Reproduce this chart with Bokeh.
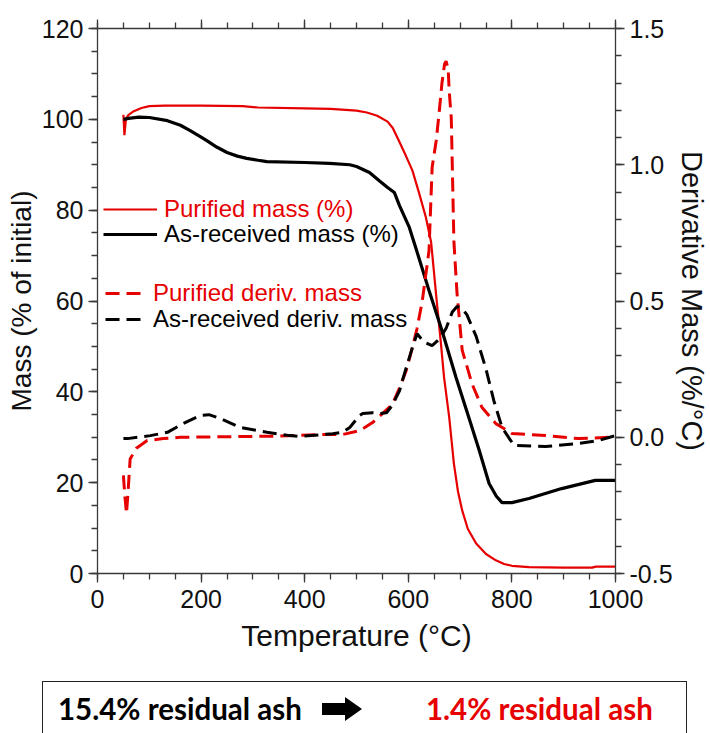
from bokeh.plotting import figure
from bokeh.models import (Range1d, LinearAxis, SingleIntervalTicker, NumeralTickFormatter,
                          CustomJSTickFormatter, Legend, LegendItem, Div)
from bokeh.layouts import column
from bokeh.embed import file_html
from bokeh.resources import INLINE

# ---------------- data ----------------
pur_mass_T = [50, 52, 55, 60, 70, 85, 100, 130, 200, 280, 310, 400, 450, 500, 520, 540, 560, 570, 583,
              596, 608, 621, 634, 644, 654, 663, 669, 679, 688, 696, 704, 715, 731, 750, 769, 785, 800,
              833, 900, 955, 962, 1000]
pur_mass = [101.0, 96.5, 100.2, 101.0, 101.8, 102.5, 102.9, 103.0, 103.0, 102.9, 102.6, 102.4, 102.3,
            101.9, 101.5, 100.8, 99.5, 98.1, 95.0, 91.8, 88.7, 83.7, 78.4, 73.0, 61.0, 50.6, 43.2,
            34.4, 24.2, 18.0, 13.9, 9.8, 6.6, 4.3, 2.9, 2.1, 1.7, 1.4, 1.3, 1.3, 1.5, 1.5]

rec_mass_T = [50, 60, 80, 100, 135, 160, 179, 200, 211, 230, 250, 270, 288, 310, 327, 400, 448, 487,
              500, 525, 544, 560, 573, 583, 602, 615, 640, 665, 692, 717, 737, 756, 770, 781, 800,
              833, 896, 961, 1000]
rec_mass = [100.0, 100.2, 100.5, 100.4, 99.7, 98.7, 97.5, 96.1, 95.3, 93.9, 92.7, 91.9, 91.4, 91.0,
            90.7, 90.5, 90.3, 90.0, 89.6, 88.3, 86.5, 85.0, 83.9, 81.0, 76.2, 71.5, 62.3, 53.5, 43.2,
            34.3, 27.1, 19.8, 17.0, 15.6, 15.6, 16.5, 18.7, 20.5, 20.5]

pur_deriv_T = [50, 53, 56, 59, 63, 75, 96, 127, 160, 250, 350, 429, 473, 506, 531, 550, 569, 583, 596,
               608, 617, 627, 640, 646, 654, 660, 665, 670, 673, 677, 679, 683, 685, 688, 694, 704,
               723, 742, 769, 800, 865, 929, 992, 1000]
pur_deriv = [-0.14, -0.22, -0.28, -0.20, -0.08, -0.04, -0.012, -0.005, 0.0, 0.002, 0.004, 0.01, 0.01,
             0.024, 0.054, 0.087, 0.12, 0.18, 0.245, 0.33, 0.40, 0.50, 0.685, 0.99, 1.09, 1.20, 1.30,
             1.37, 1.38, 1.35, 1.27, 1.17, 0.99, 0.72, 0.53, 0.32, 0.196, 0.11, 0.05, 0.014, 0.006,
             -0.005, 0.0, 0.0]

rec_deriv_T = [50, 58, 102, 135, 165, 198, 215, 237, 275, 327, 371, 390, 454, 473, 487, 506, 512, 531,
               544, 558, 569, 583, 592, 608, 617, 630, 646, 660, 673, 685, 694, 703, 713, 731, 750,
               765, 781, 804, 865, 929, 967, 1000]
rec_deriv = [-0.005, -0.005, 0.006, 0.018, 0.05, 0.08, 0.083, 0.069, 0.036, 0.018, 0.006, 0.003, 0.013,
             0.018, 0.036, 0.08, 0.087, 0.09, 0.087, 0.09, 0.117, 0.17, 0.23, 0.33, 0.38, 0.35, 0.336,
             0.36, 0.40, 0.46, 0.48, 0.475, 0.45, 0.37, 0.25, 0.135, 0.036, -0.03, -0.034, -0.023,
             -0.012, 0.006]

labels = ["Purified mass (%)", "As-received mass (%)", "Purified deriv. mass", "As-received deriv. mass"]
x_title = "Temperature (°C)"
y_title = "Mass (% of initial)"
y2_title = "Derivative Mass (%/°C)"
note_left = "15.4% residual ash"
note_right = "1.4% residual ash"

RED = "#e60000"
BLACK = "#000000"
FONT = "Liberation Sans"
AX = "#3a3a3a"

# ---------------- main figure ----------------
p = figure(width=710, height=670, x_range=Range1d(0, 1000), y_range=Range1d(0, 120),
           output_backend="svg", toolbar_location=None,
           min_border_left=97, min_border_right=93, min_border_top=28, min_border_bottom=97,
           x_axis_location=None, y_axis_location=None)
p.extra_y_ranges = {"d": Range1d(-0.5, 1.5)}
p.grid.visible = False
p.outline_line_color = None
p.background_fill_color = "white"
p.border_fill_color = "white"


def style_axis(ax, label_size):
    ax.axis_line_color = AX
    ax.axis_line_width = 1.3
    ax.major_tick_line_color = AX
    ax.minor_tick_line_color = AX
    ax.major_tick_line_width = 1.3
    ax.minor_tick_line_width = 1.3
    ax.major_tick_in = 0
    ax.major_tick_out = 9
    ax.minor_tick_in = 0
    ax.minor_tick_out = 6
    ax.major_label_text_font = FONT
    ax.major_label_text_font_size = "25px"
    ax.major_label_text_color = "#111111"
    ax.axis_label_text_font = FONT
    ax.axis_label_text_font_size = label_size
    ax.axis_label_text_font_style = "normal"
    ax.axis_label_text_color = "#111111"


xb = LinearAxis(ticker=SingleIntervalTicker(interval=200, num_minor_ticks=4), axis_label=x_title)
style_axis(xb, "30px")
xb.major_label_standoff = 7
xb.axis_label_standoff = 8
p.add_layout(xb, "below")

xt = LinearAxis(ticker=SingleIntervalTicker(interval=200, num_minor_ticks=4),
                formatter=CustomJSTickFormatter(code="return ''"))
style_axis(xt, "10px")
xt.major_label_standoff = 0
p.add_layout(xt, "above")

yl = LinearAxis(ticker=SingleIntervalTicker(interval=20, num_minor_ticks=4), axis_label=y_title)
style_axis(yl, "28px")
yl.major_label_standoff = 5
yl.axis_label_standoff = 2
p.add_layout(yl, "left")

yr = LinearAxis(y_range_name="d", ticker=SingleIntervalTicker(interval=0.5, num_minor_ticks=5),
                axis_label=y2_title, formatter=NumeralTickFormatter(format="0.0"))
style_axis(yr, "29px")
yr.major_label_standoff = 5
yr.axis_label_standoff = 0
p.add_layout(yr, "right")

r_pm = p.line(pur_mass_T, pur_mass, line_color=RED, line_width=2.2)
r_rm = p.line(rec_mass_T, rec_mass, line_color=BLACK, line_width=3.2)
r_pd = p.line(pur_deriv_T, pur_deriv, line_color=RED, line_width=3, line_dash="14 7",
              y_range_name="d")
r_rd = p.line(rec_deriv_T, rec_deriv, line_color=BLACK, line_width=3, line_dash="14 7",
              y_range_name="d")


def add_legend(label, rend, color, loc, gw, standoff):
    leg = Legend(items=[LegendItem(label=label, renderers=[rend])], location=loc,
                 glyph_width=gw, glyph_height=24, label_height=24, label_standoff=standoff,
                 padding=0, margin=0, spacing=0, border_line_alpha=0, background_fill_alpha=0,
                 label_text_font=FONT, label_text_font_size="24px", label_text_color=color)
    p.add_layout(leg)


add_legend(labels[0], r_pm, RED, (6, 350), 54, 7)
add_legend(labels[1], r_rm, BLACK, (6, 325), 54, 7)
add_legend(labels[2], r_pd, RED, (8, 266), 40, 8)
add_legend(labels[3], r_rd, BLACK, (8, 240), 40, 8)

# ---------------- note box below ----------------
note_html = f"""
<div style="position:relative;width:710px;height:63px;overflow:hidden;background:#fff;">
  <div style="position:absolute;left:42px;top:11px;width:645px;height:80px;
              border:1.5px solid #222;box-sizing:border-box;"></div>
  <span style="position:absolute;left:58px;top:21px;font-family:Lato;font-weight:bold;
               font-size:29.5px;line-height:1.2;color:{BLACK};white-space:nowrap;">{note_left}</span>
  <svg style="position:absolute;left:322px;top:27px;" width="42" height="24">
    <polygon points="0,6 23,6 23,0 40,12 23,24 23,18 0,18" fill="#000"/>
  </svg>
  <span style="position:absolute;left:426px;top:21px;font-family:Lato;font-weight:bold;
               font-size:29.5px;line-height:1.2;color:{RED};white-space:nowrap;">{note_right}</span>
</div>
"""
note = Div(text=note_html, width=710, height=63, margin=0)

layout = column(p, note, spacing=0)
open("out.html", "w").write(file_html(layout, INLINE))
